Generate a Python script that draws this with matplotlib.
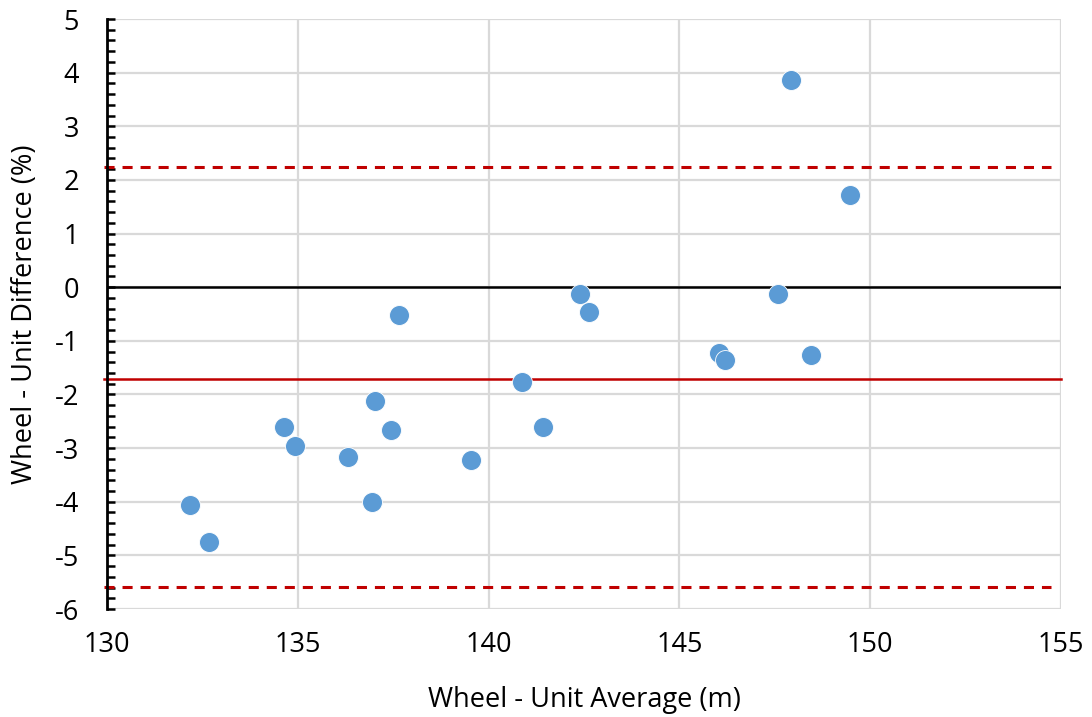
"""
Bland-Altman style plot: wheel vs unit measurement difference.
"""
import matplotlib
matplotlib.use("Agg")
import matplotlib.pyplot as plt
from matplotlib.ticker import MultipleLocator

# per-run average (m) and percent difference
average_m = [132.18, 132.67, 134.64, 134.93, 136.32, 136.94, 137.02, 137.44,
             137.65, 139.54, 140.88, 141.43, 142.40, 142.63, 146.04, 146.20,
             147.58, 147.92, 148.45, 149.47]
difference_pct = [-4.06, -4.75, -2.61, -2.96, -3.17, -4.01, -2.12, -2.67,
                  -0.52, -3.22, -1.77, -2.61, -0.13, -0.47, -1.23, -1.36,
                  -0.13, 3.86, -1.27, 1.71]

mean_diff = -1.71
upper_loa = 2.24
lower_loa = -5.59

x_ticks = [130, 135, 140, 145, 150, 155]
y_ticks = list(range(-6, 6))

plt.rcParams["font.family"] = ["Open Sans", "DejaVu Sans"]
plt.rcParams["axes.unicode_minus"] = False

fig = plt.figure(figsize=(10.92, 7.17), dpi=100)
ax = fig.add_axes([0.098, 0.1506, 0.8736, 0.8229])

grid_col = "#d9d9d9"
red = "#c00000"
fs = 19.5

ax.set_xlim(130, 155)
ax.set_ylim(-6, 5)
ax.set_xticks(x_ticks)
ax.set_yticks(y_ticks)
ax.yaxis.set_minor_locator(MultipleLocator(0.2))
ax.grid(True, which="major", color=grid_col, linewidth=1.6, zorder=0)
ax.set_axisbelow(True)

for side in ["top", "right", "bottom"]:
    ax.spines[side].set_visible(False)
ax.spines["left"].set_linewidth(2.0)
ax.spines["left"].set_zorder(3)

ax.tick_params(axis="x", length=0, pad=16, labelsize=fs)
ax.tick_params(axis="y", which="both", direction="in", length=6, width=1.8,
               pad=20, labelsize=fs)

# reference lines: zero, mean bias, limits of agreement
ax.axhline(0, xmin=0, xmax=1, color="black", linewidth=1.8, zorder=2)
ax.axhline(mean_diff, xmin=-0.003, xmax=1, color=red, linewidth=1.8, zorder=2,
           clip_on=False)
for lim in (upper_loa, lower_loa):
    ax.axhline(lim, xmin=-0.003, xmax=0.99, color=red, linewidth=2.2,
               dashes=(3.3, 2.6), zorder=2, clip_on=False)

ax.scatter(average_m, difference_pct, s=205, color="#5b9bd5",
           edgecolors="white", linewidths=0.6, zorder=4)

ax.set_xlabel("Wheel - Unit Average (m)", fontsize=fs, va="center")
ax.xaxis.set_label_coords(0.5, -0.154)
ax.set_ylabel("Wheel - Unit Difference (%)", fontsize=fs, va="center")
ax.yaxis.set_label_coords(-0.086, 0.5)

fig.savefig("out.png", dpi=100)
plt.close(fig)
